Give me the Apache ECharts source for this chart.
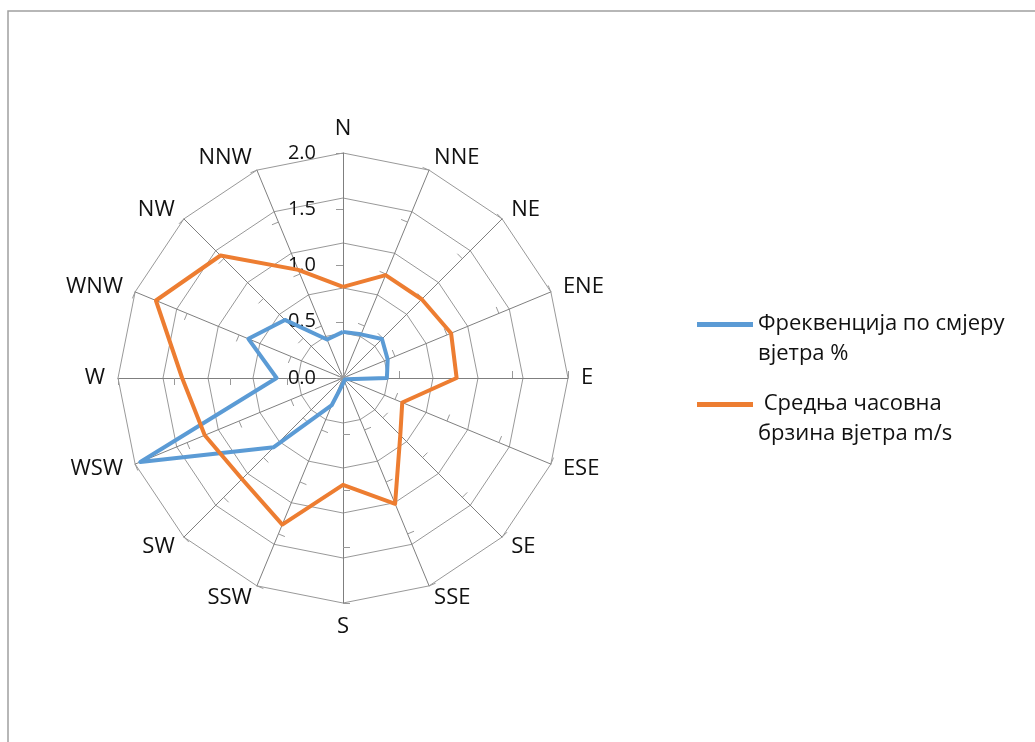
<!DOCTYPE html>
<html><head><meta charset="utf-8">
<script src="https://cdn.jsdelivr.net/npm/echarts@6/dist/echarts.min.js"></script>
<style>html,body{margin:0;padding:0;background:#fff}#c{width:1035px;height:742px}</style>
</head><body><div id="c"></div>
<script>
// Data (compass order, clockwise from N)
const directions = ['N','NNE','NE','ENE','E','ESE','SE','SSE','S','SSW','SW','WSW','W','WNW','NW','NNW'];
const frequency = [0.41,0.42,0.49,0.43,0.39,0.03,0.02,0.03,0.05,0.26,0.87,1.95,0.59,0.91,0.73,0.37];
const speed = [0.81,0.99,0.99,1.04,1.01,0.57,0.72,1.21,0.95,1.41,1.27,1.33,1.43,1.80,1.54,1.04];
const tickLabels = ['0.0','0.5','1.0','1.5','2.0'];
const seriesNames = ['Фреквенција по смјеру\nвјетра %', ' Средња часовна\nбрзина вјетра m/s'];
const axisMax = 2.0;

const FONT = '"Open Sans", "Noto Sans", sans-serif';
const BLUE = '#5B9BD5', ORANGE = '#ED7D31';

// ECharts radar lays indicators counter-clockwise; reorder so the compass runs clockwise
const order = [0].concat(directions.map((d, i) => i).slice(1).reverse());

const chart = echarts.init(document.getElementById('c'), null, {renderer: 'canvas'});
const gridIndicators = order.map(i => ({name: directions[i], min: 0, max: axisMax}));
const labelIndicators = order.map((i, k) => {
  const o = {name: directions[i], min: 0, max: axisMax};
  if (k === 0) o.axisLabel = {show: true};
  return o;
});

chart.setOption({
  backgroundColor: '#fff',
  animation: false,
  graphic: [{
    type: 'rect', silent: true, z: -1,
    shape: {x: 8, y: 11, width: 1060, height: 760},
    style: {fill: 'none', stroke: '#a0a0a0', lineWidth: 1.5}
  }],
  legend: {
    orient: 'vertical', left: 692, top: 304,
    itemWidth: 56, itemHeight: 34, itemGap: 20,
    icon: 'path://M0,0L56,0L56,5L0,5ZM0,34L0,34',
    itemStyle: {borderWidth: 0},
    textStyle: {fontFamily: FONT, fontSize: 22, color: '#111', lineHeight: 30},
    data: seriesNames
  },
  radar: [{
    center: [343, 378], radius: 225, shape: 'polygon', splitNumber: 5,
    indicator: gridIndicators,
    nameGap: 13,
    axisName: {color: '#111', fontFamily: FONT, fontSize: 22},
    axisLine: {show: true, lineStyle: {color: '#7f7f7f', width: 1}},
    splitLine: {show: true, lineStyle: {color: '#999999', width: 1}},
    splitArea: {show: false},
    axisTick: {show: false},
    axisLabel: {show: false}
  }, {
    center: [343, 378], radius: 225, shape: 'polygon', splitNumber: 4,
    indicator: labelIndicators,
    axisName: {show: false},
    axisLine: {show: false},
    splitLine: {show: false},
    splitArea: {show: false},
    axisTick: {show: true, length: 7, lineStyle: {color: '#999999', width: 1}},
    axisLabel: {show: false, margin: 27, color: '#111', fontFamily: FONT, fontSize: 20,
      formatter: (v, idx) => tickLabels[idx] !== undefined ? tickLabels[idx] : v.toFixed(1)}
  }],
  series: [{
    name: seriesNames[0], type: 'radar', radarIndex: 0, symbol: 'none',
    lineStyle: {width: 4, color: BLUE}, itemStyle: {color: BLUE},
    data: [{name: seriesNames[0], value: order.map(i => frequency[i])}]
  }, {
    name: seriesNames[1], type: 'radar', radarIndex: 0, symbol: 'none',
    lineStyle: {width: 4, color: ORANGE}, itemStyle: {color: ORANGE},
    data: [{name: seriesNames[1], value: order.map(i => speed[i])}]
  }]
});
</script></body></html>
